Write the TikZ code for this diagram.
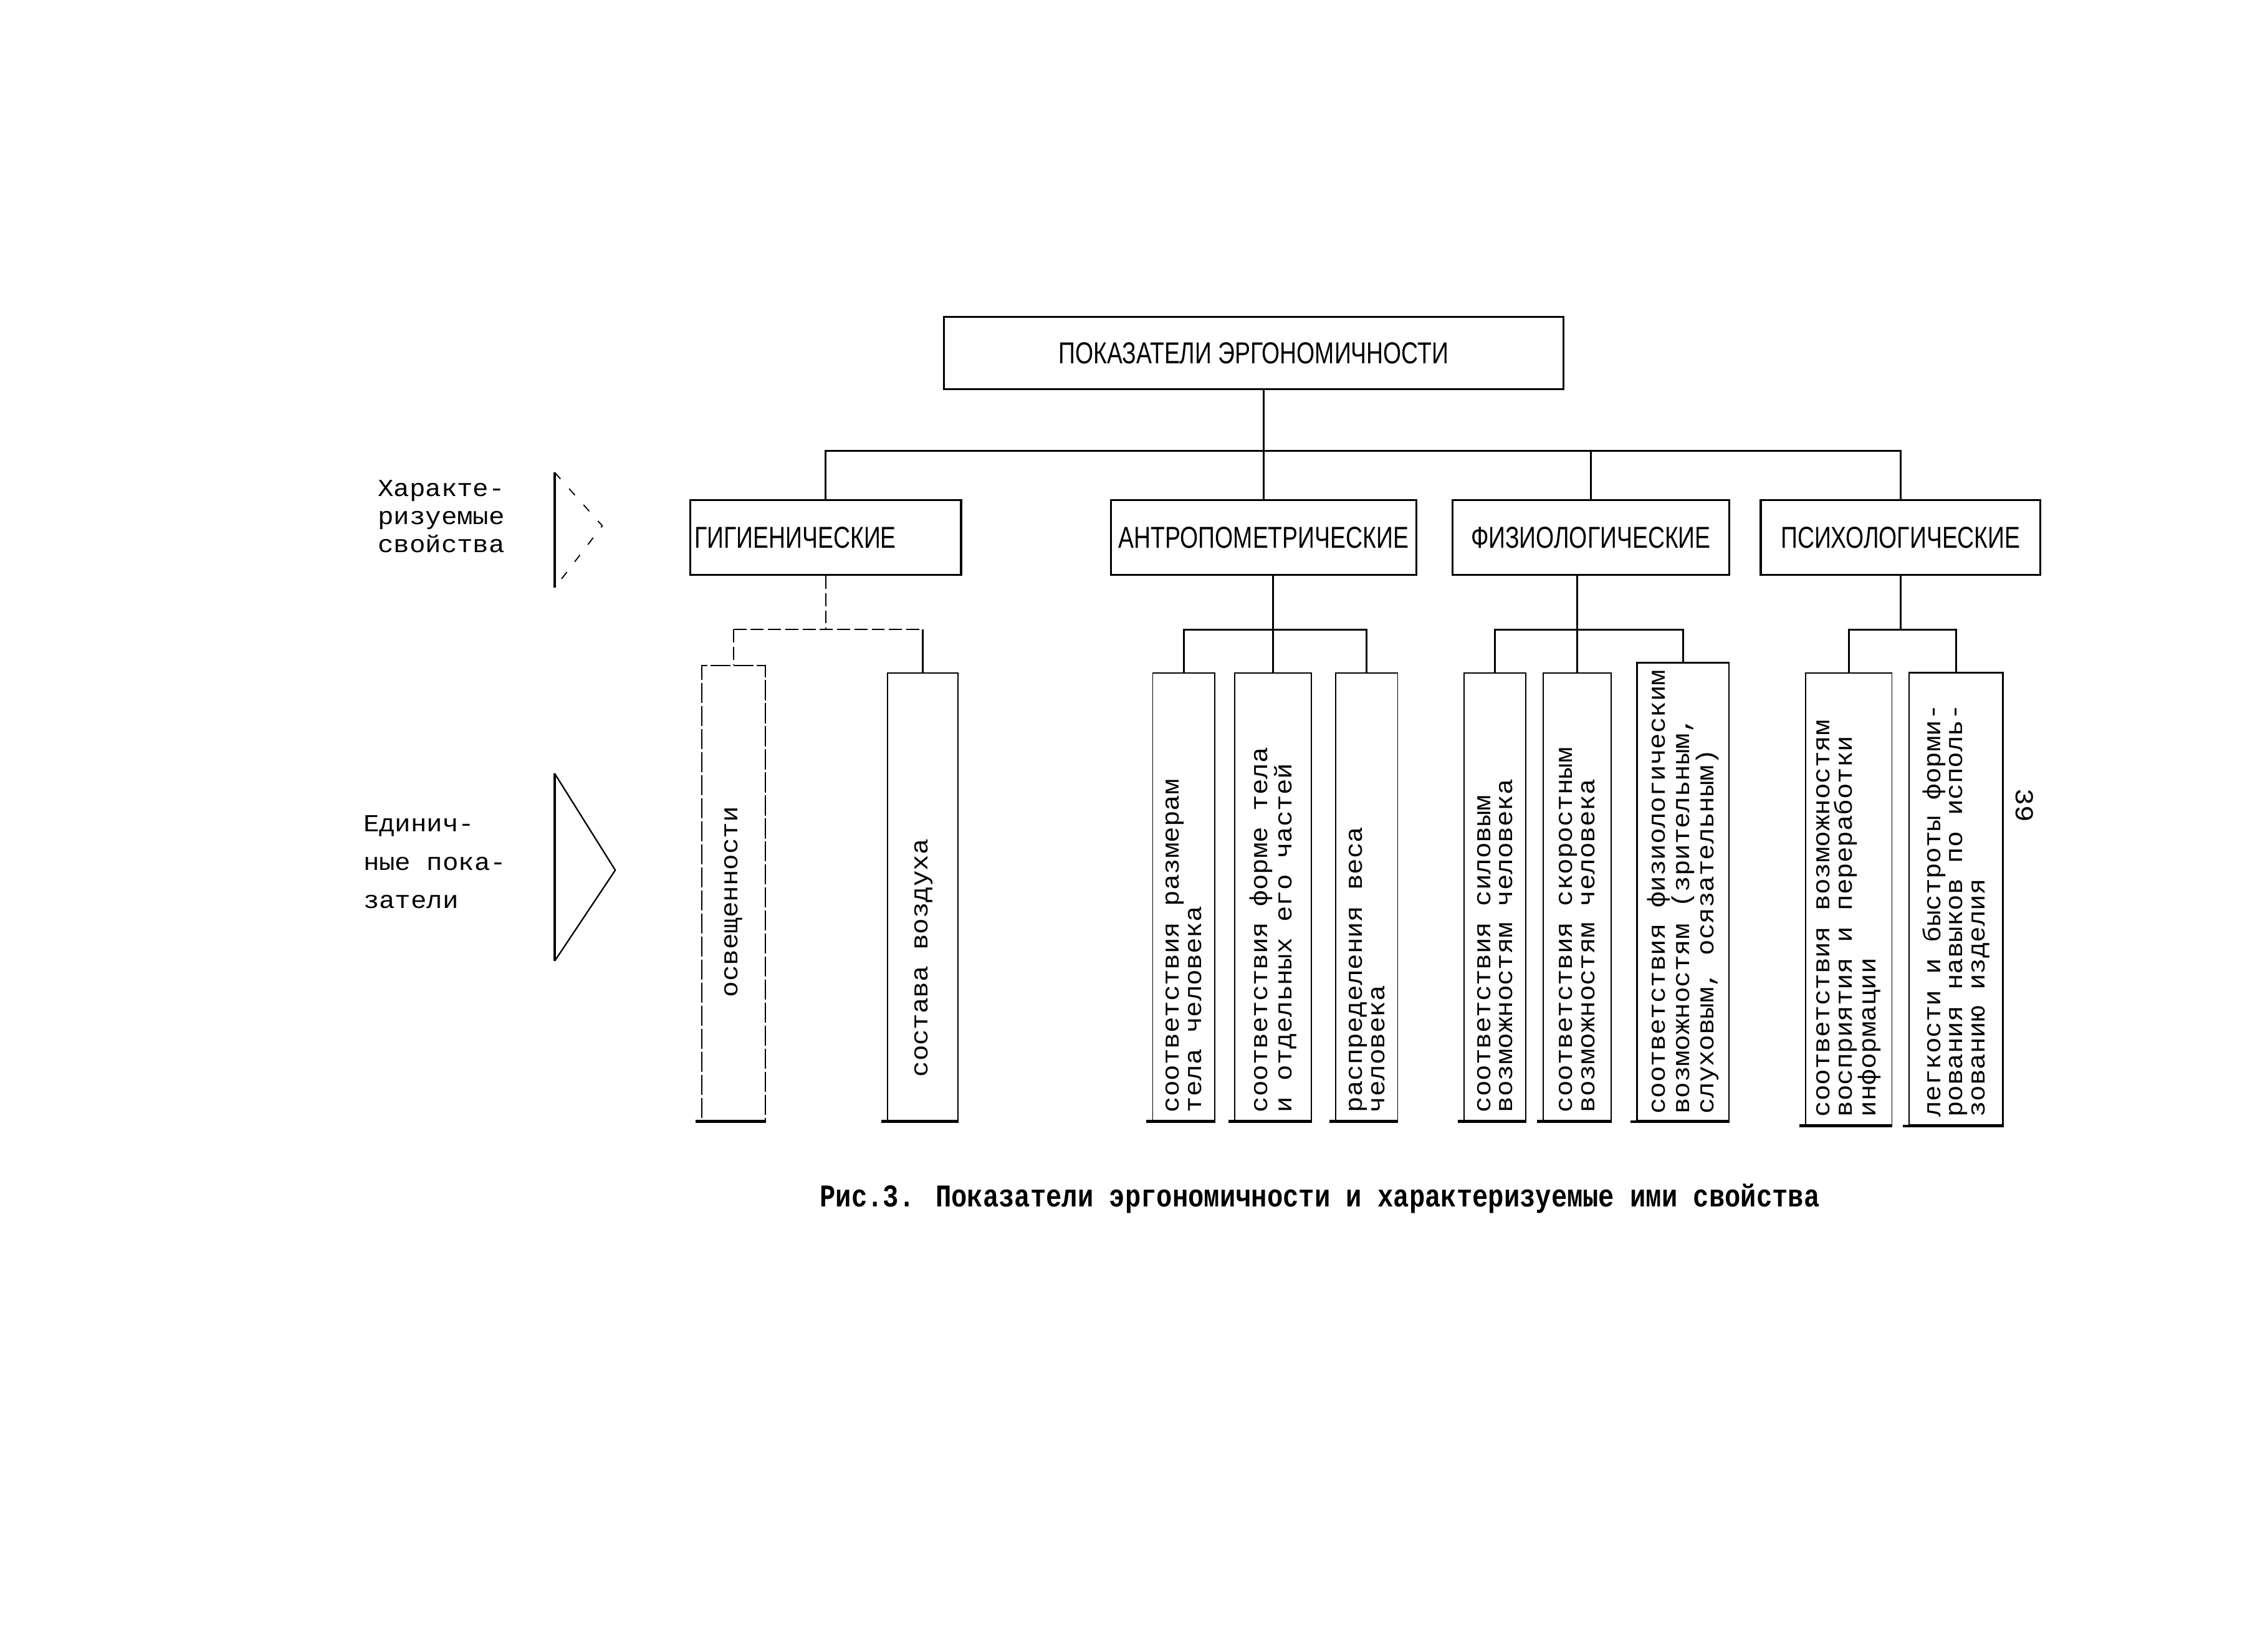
\documentclass[tikz,border=0pt]{standalone}
\usepackage{fontspec}
\newfontfamily\twf[FakeStretch=1.08]{Liberation Mono}
\newfontfamily\hdf[FakeStretch=0.77]{Liberation Sans}
\newfontfamily\capf[FakeStretch=0.83]{Liberation Mono}
\begin{document}
\begin{tikzpicture}[x=1pt,y=-1pt,
  hbox/.style={draw, line width=1.4pt, inner sep=0pt, font=\hdf\fontsize{21}{22}\selectfont},
  vbox/.style={draw, line width=0.8pt, inner sep=0pt},
  vtext/.style={rotate=90, align=left, inner sep=0pt, font=\twf\fontsize{17}{15.5}\selectfont},
  conn/.style={line width=1.3pt},
  dconn/.style={line width=1pt, dash pattern=on 9pt off 3pt},
  bline/.style={line width=1.8pt},
  lbl/.style={align=left, inner sep=0pt, anchor=north west, font=\twf\fontsize{17}{19.5}\selectfont}]
\useasboundingbox (0,0) rectangle (1565,1146.3);
\fill[white] (0,0) rectangle (1565,1146.3);

% top
\node[hbox, minimum width=430pt, minimum height=50pt] (top) at (870,245) {ПОКАЗАТЕЛИ ЭРГОНОМИЧНОСТИ};

% second row
\node[hbox, minimum width=188pt, minimum height=52pt, text width=182pt, inner xsep=3pt, align=left] (gig) at (573,373) {ГИГИЕНИЧЕСКИЕ};
\node[hbox, minimum width=212pt, minimum height=52pt] (antr) at (877,373) {АНТРОПОМЕТРИЧЕСКИЕ};
\node[hbox, minimum width=192pt, minimum height=52pt] (fiz) at (1104,373) {ФИЗИОЛОГИЧЕСКИЕ};
\node[hbox, minimum width=194pt, minimum height=52pt] (psy) at (1319,373) {ПСИХОЛОГИЧЕСКИЕ};

% third row boxes
\node[vbox, minimum width=44pt, minimum height=316pt, dash pattern=on 14pt off 2pt] (b1) at (509,620) {};
\node[vbox, minimum width=49pt, minimum height=311pt] (b2) at (640.5,622.5) {};
\node[vbox, minimum width=43pt, minimum height=311pt] (b3) at (821.5,622.5) {};
\node[vbox, minimum width=53pt, minimum height=311pt] (b4) at (883.5,622.5) {};
\node[vbox, minimum width=43pt, minimum height=311pt] (b5) at (948.5,622.5) {};
\node[vbox, minimum width=43pt, minimum height=311pt] (b6) at (1037.5,622.5) {};
\node[vbox, minimum width=47pt, minimum height=311pt] (b7) at (1094.5,622.5) {};
\node[vbox, minimum width=64pt, minimum height=318pt, line width=1.1pt] (b8) at (1168,619) {};
\node[vbox, minimum width=60pt, minimum height=314pt] (b9) at (1283,624) {};
\node[vbox, minimum width=65pt, minimum height=314pt, line width=1.1pt] (b10) at (1357.5,624) {};

\foreach \b in {b1,b2,b3,b4,b5,b6,b7,b8,b9,b10}
  \draw[bline] ([xshift=-4pt]\b.south west) -- (\b.south east);

% texts in third row
\node[vtext] (t1) at (509,626) {освещенности};
\node[vtext] (t2) at (641,665) {состава воздуха};
\node[vtext, anchor=west] (t3) at ([yshift=6pt]b3.south) {соответствия размерам\\тела человека};
\node[vtext, anchor=west] (t4) at ([yshift=6pt]b4.south) {соответствия форме тела\\и отдельных его частей};
\node[vtext, anchor=west] (t5) at ([yshift=6pt]b5.south) {распределения веса\\человека};
\node[vtext, anchor=west] (t6) at ([yshift=6pt]b6.south) {соответствия силовым\\возможностям человека};
\node[vtext, anchor=west] (t7) at ([yshift=6pt]b7.south) {соответствия скоростным\\возможностям человека};
\node[vtext, anchor=west] (t8) at ([yshift=5pt]b8.south) {соответствия физиологическим\\возможностям (зрительным,\\слуховым, осязательным)};
\node[vtext, anchor=west] (t9) at ([yshift=6pt]b9.south) {соответствия возможностям\\восприятия и переработки\\информации};
\node[vtext, anchor=west] (t10) at ([yshift=6pt]b10.south) {легкости и быстроты форми-\\рования навыков по исполь-\\зованию изделия};

% connectors level 1
\coordinate (bar) at (0,313);
\coordinate (lv) at (0,437);
\draw[conn] (gig.north) -- (gig.north |- bar) -- (psy.north |- bar) -- (psy.north);
\draw[conn] (top.south -| antr.north) -- (antr.north);
\draw[conn] (fiz.north |- bar) -- (fiz.north);

% gig subtree
\draw[dconn] (gig.south) -- (gig.south |- lv);
\draw[dconn] (b1.north |- lv) -- (b2.north |- lv);
\draw[dconn] (b1.north |- lv) -- (b1.north);
\draw[conn] (b2.north |- lv) -- (b2.north);

% antr subtree
\draw[conn] (antr.south -| b4.north) -- (b4.north);
\draw[conn] (b3.north) -- (b3.north |- lv) -- (b5.north |- lv) -- (b5.north);

% fiz subtree
\draw[conn] (fiz.south -| b7.north) -- (b7.north);
\draw[conn] (b6.north) -- (b6.north |- lv) -- (b8.north |- lv) -- (b8.north);

% psy subtree
\draw[conn] (psy.south) -- (psy.south |- lv);
\draw[conn] (b9.north) -- (b9.north |- lv) -- (b10.north |- lv) -- (b10.north);

% left labels
\node[lbl] (l1) at (262,333) {Характе-\\ризуемые\\свойства};
\node[lbl, font=\twf\fontsize{17}{26.5}\selectfont] (l2) at (252,566) {Единич-\\ные пока-\\затели};

\coordinate (ta) at (385,328);
\coordinate (tb) at (418,365);
\coordinate (tc) at (385,408);
\draw[line width=1.4pt] (ta) -- (tc);
\draw[line width=0.8pt, dash pattern=on 6pt off 9pt] (ta) -- (tb) -- (tc);

\coordinate (ua) at (385,537);
\coordinate (ub) at (427,604);
\coordinate (uc) at (385,667);
\draw[line width=1.4pt] (ua) -- (uc);
\draw[line width=1pt] (ua) -- (ub) -- (uc);

% page number
\node[rotate=-90, inner sep=0pt, font=\twf\fontsize{18}{18}\selectfont] (pg) at (1405,559) {39};

% caption
\node[inner sep=0pt, font=\capf\bfseries\fontsize{22}{22}\selectfont] (cap) at (916,832) {Рис.3. Показатели эргономичности и характеризуемые ими свойства};
\end{tikzpicture}
\end{document}
